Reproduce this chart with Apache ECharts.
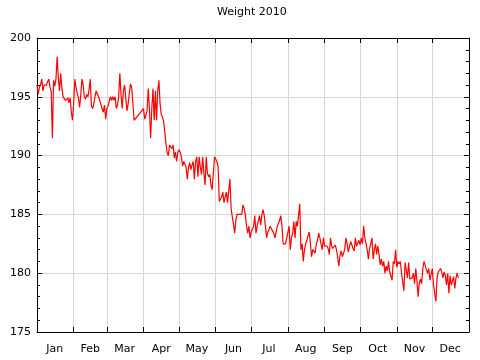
<!DOCTYPE html>
<html><head><meta charset="utf-8">
<script src="https://cdn.jsdelivr.net/npm/echarts@6/dist/echarts.min.js"></script>
<style>html,body{margin:0;padding:0;background:#fff}#c{width:480px;height:360px}</style>
</head><body><div id="c"></div>
<script>
const chartTitle = 'Weight 2010';
const months = ['Jan','Feb','Mar','Apr','May','Jun','Jul','Aug','Sep','Oct','Nov','Dec'];
const monthDays = [31,28,31,30,31,30,31,31,30,31,30,31];
const yMin = 175, yMax = 200, yStep = 5;

// daily weights (lb), one value per day; null = no reading
const wJan = [196.0,195.2,195.8,196.0,196.5,195.5,196.0,196.0,196.0,196.3,196.5,195.8,195.5,191.5,196.4,195.9,196.5,198.4,196.6,195.5,197.0,195.8,195.0,195.0,194.7,194.6,194.9,194.5,194.9,193.7,193.0];
const wFeb = [194.5,196.5,195.8,195.3,194.9,194.1,195.2,196.5,196.0,195.0,194.8,195.2,195.0,195.6,196.5,194.2,194.0,194.4,195.0,195.5,195.5,195.0,194.7,194.7,194.0,193.7,194.3,193.1];
const wMar = [194.0,194.2,194.6,195.0,194.7,195.0,194.7,195.0,194.0,194.3,195.0,197.0,195.2,194.0,195.5,196.0,196.0,193.8,194.4,195.3,196.1,195.8,194.5,193.0,null,null,null,null,null,null,null];
const wApr = [194.0,193.1,193.0,193.8,195.7,194.0,191.5,194.0,195.7,193.0,195.5,193.0,195.5,196.4,194.4,193.5,193.3,192.9,192.0,191.0,190.2,190.0,190.9,190.9,190.6,190.9,189.8,190.3,189.5,190.3];
const wMay = [190.5,190.3,189.9,189.1,189.5,189.5,189.0,188.0,189.0,189.4,188.8,189.2,189.5,188.0,189.5,189.9,188.2,189.9,189.0,188.4,189.9,188.5,187.5,189.9,188.5,188.2,188.4,187.5,187.1,188.5,189.9];
const wJun = [189.9,189.5,189.1,186.1,186.1,186.5,186.9,186.0,186.5,186.9,186.0,187.0,188.0,185.5,184.8,184.2,183.4,184.5,185.0,185.0,185.0,185.0,185.0,185.8,185.5,185.0,184.0,183.4,184.0,183.0];
const wJul = [183.5,183.4,184.0,184.9,183.4,184.0,184.0,184.9,184.1,185.0,185.4,184.9,184.0,183.0,183.5,183.7,184.0,183.8,183.6,183.4,183.0,183.5,184.0,184.1,184.5,184.9,184.0,182.5,182.5,182.5,183.0];
const wAug = [183.5,184.0,182.0,183.0,183.4,184.4,183.0,184.4,184.0,184.0,185.9,182.0,182.5,181.0,182.0,182.5,182.8,183.2,183.5,182.5,181.4,182.0,182.0,181.7,182.5,182.8,183.4,183.0,182.5,182.0,183.0];
const wSep = [182.3,182.4,182.3,182.1,181.6,183.0,182.3,182.1,182.0,182.4,182.0,181.4,180.6,181.5,181.9,181.4,181.4,182.0,183.0,182.5,181.8,181.9,182.7,182.7,182.1,181.9,183.0,182.3,182.2,182.8];
const wOct = [182.4,183.0,182.5,184.0,183.0,182.5,182.0,181.2,182.1,182.5,183.0,181.2,182.0,182.5,181.6,182.3,181.6,180.7,181.2,180.6,181.0,180.0,180.6,180.2,181.0,180.1,180.1,179.4,181.0,180.8,182.0];
const wNov = [180.5,181.0,180.8,181.0,180.0,180.0,178.5,180.9,180.8,179.6,180.9,179.5,179.6,179.6,180.0,179.1,180.4,179.4,178.0,179.2,179.5,179.1,180.4,181.0,180.9,180.3,180.0,180.4,179.4,179.3];
const wDec = [180.4,179.0,178.9,177.6,179.6,180.1,180.1,180.4,180.1,179.6,180.1,179.8,179.0,180.0,178.3,179.8,179.0,178.9,179.7,178.7,179.6,180.0,179.6];

const weights = [].concat(wJan,wFeb,wMar,wApr,wMay,wJun,wJul,wAug,wSep,wOct,wNov,wDec);

// axis structure
const starts = [0];
monthDays.forEach(d => starts.push(starts[starts.length-1] + d));
const total = starts[starts.length-1];
const mids = months.map((m,i) => Math.floor((starts[i] + starts[i+1]) / 2));
const labelAt = {};
mids.forEach((d,i) => { labelAt[d] = months[i]; });
const isStart = new Set(starts);
const days = [];
for (let i = 0; i <= total; i++) days.push(String(i));

const font = 'DejaVu Sans';
const black = '#000';
const gridColor = '#d6d6d6';

const chart = echarts.init(document.getElementById('c'), null, {renderer: 'canvas'});
chart.setOption({
  animation: false,
  backgroundColor: '#fff',
  title: {
    text: chartTitle, left: 217, top: 7, padding: 0,
    textStyle: {fontFamily: font, fontSize: 11, fontWeight: 'normal', color: black}
  },
  grid: {left: 37, right: 11, top: 38, bottom: 28, containLabel: false},
  xAxis: [{
    type: 'category', data: days, boundaryGap: false, position: 'bottom',
    axisLine: {show: true, onZero: false, lineStyle: {color: black, width: 1}},
    axisTick: {show: true, inside: true, length: 5, interval: (i) => isStart.has(i), lineStyle: {color: black}},
    axisLabel: {show: true, interval: (i) => labelAt[i] !== undefined, formatter: (v) => labelAt[+v] || '',
      margin: 12, color: black, fontFamily: font, fontSize: 11},
    splitLine: {show: true, interval: (i) => isStart.has(i) && i > 0 && i < total, lineStyle: {color: gridColor, width: 1}}
  }, {
    type: 'category', data: days, boundaryGap: false, position: 'top',
    axisLine: {show: true, onZero: false, lineStyle: {color: black, width: 1}},
    axisTick: {show: true, inside: true, length: 5, interval: (i) => isStart.has(i), lineStyle: {color: black}},
    axisLabel: {show: false},
    splitLine: {show: false}
  }],
  yAxis: [{
    type: 'value', min: yMin, max: yMax, interval: yStep, position: 'left',
    axisLine: {show: true, lineStyle: {color: black, width: 1}},
    axisTick: {show: true, inside: true, length: 5, lineStyle: {color: black}},
    minorTick: {show: true, splitNumber: 5, length: 3, lineStyle: {color: black}},
    axisLabel: {margin: 6, color: black, fontFamily: font, fontSize: 11},
    splitLine: {show: true, lineStyle: {color: gridColor, width: 1}}
  }, {
    type: 'value', min: yMin, max: yMax, interval: yStep, position: 'right',
    axisLine: {show: true, lineStyle: {color: black, width: 1}},
    axisTick: {show: true, inside: true, length: 5, lineStyle: {color: black}},
    minorTick: {show: true, splitNumber: 5, length: 3, lineStyle: {color: black}},
    axisLabel: {show: false},
    splitLine: {show: false}
  }],
  series: [{
    type: 'line', xAxisIndex: 0, yAxisIndex: 0, data: weights,
    showSymbol: false, symbol: 'none', connectNulls: true,
    lineStyle: {color: '#ff0000', width: 1.2}, z: 5
  }]
});
</script>
</body></html>
